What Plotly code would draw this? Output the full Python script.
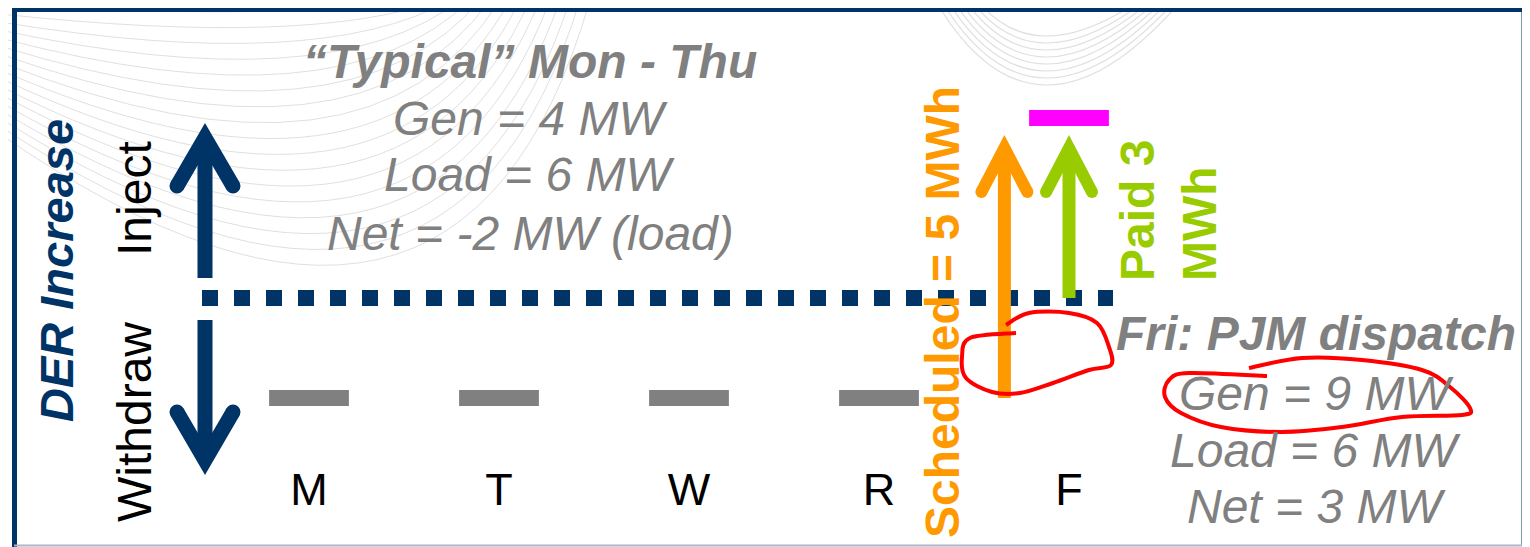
import plotly.graph_objects as go

# Reference canvas 1530x547; the page has an 8px body margin, so the figure is
# made 8px smaller and all reference pixel positions are shifted by OFF.
RW, RH = 1530, 547
OFF = 8
W, H = RW - OFF, RH - OFF

# ---------------- data ----------------
days = ["M", "T", "W", "R", "F"]
typical_net = [-2, -2, -2, -2]          # Mon-Thu net (MW), gray dashes
fri_scheduled = [-2, 3]                  # orange arrow: from / to (MW)
fri_paid = [0, 3]                        # green arrow: from / to (MW)
fri_marker = 3.6                         # magenta dash level (MW)

typical_lines = ["\u201cTypical\u201d Mon - Thu", "Gen = 4 MW", "Load = 6 MW", "Net = -2 MW (load)"]
fri_lines = ["Fri: PJM dispatch", "Gen = 9 MW", "Load = 6 MW", "Net = 3 MW"]

# ---------------- colours / fonts ----------------
NAVY = "#003366"
GRAY = "#808080"
ORANGE = "#FF9900"
GREEN = "#99CC00"
MAGENTA = "#FF00FF"
RED = "#FF0000"
FONT = "Liberation Sans, Arial, sans-serif"

# axis scale (reference pixel of day 0 / 0 MW and pixels per unit)
X0PX, DXPX = 309 - OFF, 190
Y0PX, DYPX = 298 - OFF, 50
xrange = [(0 - X0PX) / DXPX, (W - X0PX) / DXPX]
yrange = [(Y0PX - H) / DYPX, Y0PX / DYPX]
base_start, base_end = (202 - OFF - X0PX) / DXPX, (1113 - OFF - X0PX) / DXPX
dash_half = 0.21
sched_offset = -0.34
day_label_y = (Y0PX - (494 - OFF)) / DYPX
fri_idx = days.index("F")


def px(x):
    return (x - OFF) / W


def py(y):
    return 1 - (y - OFF) / H


def P(x, y):
    return f"{px(x):.5f},{py(y):.5f}"


fig = go.Figure()

# baseline (0 MW) dotted
fig.add_trace(go.Scatter(x=[base_start, base_end], y=[0, 0], mode="lines",
                         line=dict(color=NAVY, width=16, dash="dot"), hoverinfo="skip"))

# typical net dashes
gx, gy = [], []
for i, v in enumerate(typical_net):
    gx += [i - dash_half, i + dash_half, None]
    gy += [v, v, None]
fig.add_trace(go.Scatter(x=gx, y=gy, mode="lines", line=dict(color=GRAY, width=16), hoverinfo="skip"))

# friday arrows
xo = fri_idx + sched_offset
fig.add_trace(go.Scatter(x=[xo, xo], y=fri_scheduled, mode="lines",
                         line=dict(color=ORANGE, width=13), hoverinfo="skip"))
fig.add_trace(go.Scatter(x=[fri_idx, fri_idx], y=fri_paid, mode="lines",
                         line=dict(color=GREEN, width=13), hoverinfo="skip"))
fig.add_trace(go.Scatter(x=[fri_idx - dash_half, fri_idx + dash_half], y=[fri_marker, fri_marker],
                         mode="lines", line=dict(color=MAGENTA, width=16), hoverinfo="skip"))

# day labels
fig.add_trace(go.Scatter(x=list(range(len(days))), y=[day_label_y] * len(days), mode="text",
                         text=days, textposition="middle center",
                         textfont=dict(family=FONT, size=45, color="black"), hoverinfo="skip"))

shapes = []

# ---- faint background swirls ----
SW = "rgba(185,185,185,0.45)"
n = 17
for k in range(n):
    a = 6 + 8 * k
    cx, cy = 300 + 10 * k, 20 + 27 * k
    ex = 430 + 10 * k
    path = f"M {P(0, a)} Q {P(cx, cy)} {P(ex, 0)}"
    shapes.append(dict(type="path", xref="paper", yref="paper", path=path, layer="below",
                       line=dict(color=SW, width=1)))
for k in range(8):
    x0 = 935 + 6 * k
    x1 = 1182 - 6 * k
    vy = 85 - 7 * k
    path = f"M {P(x0, 0)} Q {P(1035, 2 * vy)} {P(x1, 0)}"
    shapes.append(dict(type="path", xref="paper", yref="paper", path=path, layer="below",
                       line=dict(color=SW, width=1.2)))

# ---- frame ----
shapes += [
    dict(type="line", xref="paper", yref="paper", x0=px(14.5), x1=px(14.5), y0=py(8), y1=py(547),
         line=dict(color=NAVY, width=5)),
    dict(type="line", xref="paper", yref="paper", x0=px(12), x1=px(1527), y0=py(10), y1=py(10),
         line=dict(color=NAVY, width=4)),
    dict(type="line", xref="paper", yref="paper", x0=px(1523), x1=px(1523), y0=py(8), y1=py(545),
         line=dict(color=NAVY, width=3)),
    dict(type="line", xref="paper", yref="paper", x0=px(14), x1=px(1530), y0=py(545.5), y1=py(545.5),
         line=dict(color="#A9B8C8", width=2)),
]

# ---- inject / withdraw arrows ----
AX = 205
for (s0, s1, tip, wing) in [(278, 138, 138, 186), (320, 460, 460, 412)]:
    shapes.append(dict(type="path", xref="paper", yref="paper",
                       path=f"M {P(AX, s0)} L {P(AX, s1)}", line=dict(color=NAVY, width=15)))
    shapes.append(dict(type="path", xref="paper", yref="paper",
                       path=f"M {P(AX - 28, wing)} L {P(AX, tip)} L {P(AX + 28, wing)}",
                       line=dict(color=NAVY, width=15)))
    for wx in (AX - 28, AX + 28):
        shapes.append(dict(type="circle", xref="paper", yref="paper",
                           x0=px(wx - 7.5), x1=px(wx + 7.5), y0=py(wing - 7.5), y1=py(wing + 7.5),
                           fillcolor=NAVY, line=dict(width=0)))


# ---- friday arrowheads (pixel-sized, anchored to data) ----
def head(xv, yv, color, hw=23, drop=44, w=12):
    out = [dict(type="path", xref="x", yref="y", xsizemode="pixel", ysizemode="pixel",
                xanchor=xv, yanchor=yv, path=f"M {-hw},{-drop} L 0,0 L {hw},{-drop}",
                line=dict(color=color, width=w))]
    r = w / 2
    for sx in (-hw, hw):
        out.append(dict(type="circle", xref="x", yref="y", xsizemode="pixel", ysizemode="pixel",
                        xanchor=xv, yanchor=yv, x0=sx - r, x1=sx + r, y0=-drop - r, y1=-drop + r,
                        fillcolor=color, line=dict(width=0)))
    return out


shapes += head(xo, fri_scheduled[1], ORANGE)
shapes += head(fri_idx, fri_paid[1], GREEN)


# ---- red hand-drawn loops ----
def smooth(pts):
    s = "M " + P(*pts[0])
    for i in range(len(pts) - 1):
        p0 = pts[i - 1] if i > 0 else pts[i]
        p1, p2 = pts[i], pts[i + 1]
        p3 = pts[i + 2] if i + 2 < len(pts) else pts[i + 1]
        c1 = (p1[0] + (p2[0] - p0[0]) / 6, p1[1] + (p2[1] - p0[1]) / 6)
        c2 = (p2[0] - (p3[0] - p1[0]) / 6, p2[1] - (p3[1] - p1[1]) / 6)
        s += " C " + P(*c1) + " " + P(*c2) + " " + P(*p2)
    return s


loop1 = [(1006, 325), (1029, 313), (1069, 313), (1097, 323), (1109, 347), (1111, 365), (1089, 370),
         (1053, 383), (1020, 393), (992, 392), (966, 378), (962, 357), (970, 338), (1016, 333)]
loop2 = [(1249, 368), (1302, 358), (1362, 360), (1422, 370), (1450, 387), (1470, 408), (1462, 415),
         (1402, 417), (1342, 427), (1282, 432), (1221, 427), (1181, 413), (1165, 397), (1169, 380),
         (1189, 373), (1267, 376)]
for lp in (loop1, loop2):
    shapes.append(dict(type="path", xref="paper", yref="paper", path=smooth(lp),
                       line=dict(color=RED, width=4)))

# ---------------- annotations ----------------
ann = []


def txt(x, y, text, size=48, color=GRAY, bold=False, italic=False, angle=0, align="center"):
    ann.append(dict(x=px(x), y=py(y), xref="paper", yref="paper", text=text, showarrow=False,
                    xanchor="center", yanchor="middle", textangle=angle, align=align,
                    font=dict(family=FONT, size=size, color=color,
                              weight="bold" if bold else "normal",
                              style="italic" if italic else "normal")))


txt(56, 271, "DER Increase", size=47, color=NAVY, bold=True, italic=True, angle=-90)
txt(134, 199, "Inject", size=48, color="black", angle=-90)
txt(134, 422, "Withdraw", size=48, color="black", angle=-90)

ty = [61, 118, 175, 233]
for i, line in enumerate(typical_lines):
    txt(530, ty[i], line, bold=(i == 0), italic=True)

fy = [333, 393, 450, 506]
for i, line in enumerate(fri_lines):
    txt(1316, fy[i], line, bold=(i == 0), italic=True)

txt(942, 312, "Scheduled = 5 MWh", size=48, color=ORANGE, bold=True, angle=-90)
txt(1168, 211, "Paid 3<br>MWh", size=48, color=GREEN, bold=True, angle=-90, align="left")

fig.update_layout(
    width=W, height=H, margin=dict(l=0, r=0, t=0, b=0),
    paper_bgcolor="white", plot_bgcolor="rgba(0,0,0,0)", showlegend=False,
    xaxis=dict(range=xrange, visible=False, fixedrange=True),
    yaxis=dict(range=yrange, visible=False, fixedrange=True),
    shapes=shapes, annotations=ann,
)

fig.write_html("out.html")
